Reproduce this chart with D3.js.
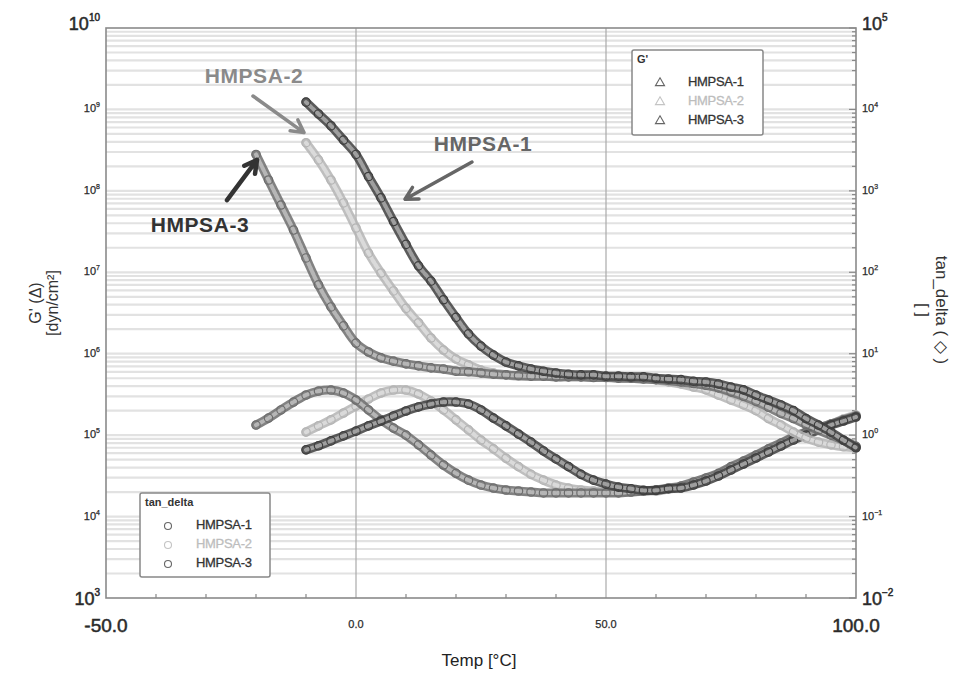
<!DOCTYPE html>
<html><head><meta charset="utf-8">
<script src="https://cdn.jsdelivr.net/npm/d3@7"></script>
<style>body{margin:0;background:#fff} svg{display:block;font-family:'Liberation Sans',Arial,sans-serif}</style>
</head><body><svg id="c" width="955" height="675"></svg>
<script>
// ---------------- data ----------------
const tempsA = [-10,-7.5,-5,-2.5,0,2.5,5,7.5,10,12.5,15,17.5,20,22.5,25,27.5,30,32.5,35,37.5,40,42.5,45,47.5,50,52.5,55,57.5,60,62.5,65,67.5,70,72.5,75,77.5,80,82.5,85,87.5,90,92.5,95,97.5,100];
const tempsB = [-20,-17.5,-15,-12.5,-10,-7.5,-5,-2.5,0,2.5,5,7.5,10,12.5,15,17.5,20,22.5,25,27.5,30,32.5,35,37.5,40,42.5,45,47.5,50,52.5,55,57.5,60,62.5,65,67.5,70,72.5,75,77.5,80,82.5,85,87.5,90,92.5,95,97.5,100];
const seriesNames = ["HMPSA-1","HMPSA-2","HMPSA-3"];
// G' [dyn/cm2]
const gPrime1 = [1.23e9,8.8e8,6.3e8,4.2e8,2.8e8,1.5e8,8.2e7,4.2e7,2.2e7,1.2e7,7.8e6,4.6e6,2.8e6,1.75e6,1.24e6,9.6e5,7.9e5,7.1e5,6.5e5,6.1e5,5.8e5,5.6e5,5.5e5,5.5e5,5.3e5,5.3e5,5.2e5,5.2e5,5.0e5,4.9e5,4.8e5,4.6e5,4.5e5,4.25e5,3.9e5,3.6e5,3.1e5,2.7e5,2.35e5,2.0e5,1.6e5,1.33e5,1.09e5,8.7e4,7.0e4];
const gPrime2 = [3.9e8,2.4e8,1.36e8,7.1e7,3.5e7,1.72e7,9.8e6,5.9e6,3.6e6,2.4e6,1.56e6,1.11e6,8.6e5,7.3e5,6.3e5,5.8e5,5.5e5,5.3e5,5.3e5,5.3e5,5.2e5,5.2e5,5.2e5,5.2e5,5.2e5,5.0e5,5.0e5,4.9e5,4.8e5,4.5e5,4.25e5,3.9e5,3.6e5,3.1e5,2.7e5,2.35e5,2.0e5,1.6e5,1.33e5,1.09e5,9.2e4,8.2e4,7.6e4,7.2e4,7.0e4];
const gPrime3 = [2.8e8,1.36e8,6.7e7,3.3e7,1.5e7,7.0e6,3.75e6,2.2e6,1.35e6,1.05e6,8.9e5,8.1e5,7.5e5,7.1e5,6.7e5,6.5e5,6.1e5,6.0e5,5.8e5,5.6e5,5.5e5,5.4e5,5.3e5,5.3e5,5.2e5,5.2e5,5.2e5,5.1e5,5.1e5,5.0e5,5.0e5,4.9e5,4.8e5,4.7e5,4.5e5,4.3e5,4.1e5,3.8e5,3.4e5,3.0e5,2.6e5,2.2e5,1.85e5,1.6e5,1.35e5,1.15e5,1.0e5,8.6e4,7.3e4];
// tan delta [ ]
const tanDelta1 = [0.66,0.74,0.85,0.98,1.12,1.30,1.49,1.72,1.98,2.22,2.41,2.55,2.55,2.41,2.04,1.62,1.30,1.03,0.82,0.64,0.51,0.41,0.33,0.28,0.25,0.23,0.22,0.21,0.21,0.22,0.224,0.244,0.273,0.315,0.373,0.442,0.524,0.621,0.736,0.872,1.00,1.16,1.33,1.49,1.67];
const tanDelta2 = [1.09,1.30,1.54,1.87,2.28,2.78,3.29,3.58,3.58,3.20,2.63,2.04,1.54,1.16,0.87,0.68,0.52,0.41,0.33,0.28,0.244,0.224,0.212,0.206,0.200,0.200,0.200,0.206,0.206,0.218,0.231,0.251,0.289,0.333,0.395,0.468,0.555,0.657,0.778,0.923,1.06,1.22,1.37,1.58,1.77];
const tanDelta3 = [1.33,1.62,2.04,2.55,3.11,3.48,3.58,3.29,2.70,2.04,1.54,1.22,1.00,0.76,0.57,0.43,0.34,0.28,0.244,0.224,0.212,0.206,0.200,0.195,0.195,0.195,0.195,0.195,0.195,0.195,0.200,0.206,0.212,0.224,0.237,0.265,0.298,0.34,0.41,0.48,0.57,0.68,0.80,0.95,1.09,1.22,1.37,1.54,1.72];
// axes
const xTickValues = [-50,0,50,100];
const xTickLabels = ["-50.0","0.0","50.0","100.0"];
const xMinorTicks = [-40,-30,-20,-10,10,20,30,40,60,70,80,90];
const leftExps = [3,4,5,6,7,8,9,10];
const rightExps = [-2,-1,0,1,2,3,4,5];
// annotations: [label, textT, textG, arrowFromT, arrowFromG, arrowToT, arrowToG]
const annotations = [
  ["HMPSA-2", -20.4, 2.1e9, -20.6, 1.46e9, -10.4, 5.2e8],
  ["HMPSA-1", 25.4, 3.1e8, 23.2, 2.26e8, 9.8, 7.9e7],
  ["HMPSA-3", -31.2, 3.1e7, -25.8, 7.7e7, -19.8, 2.4e8]
];

// ---------------- layout ----------------
const L=106, R=856, T=28, B=598;
const colors = ["#3e3e3e","#b4b4b4","#6c6c6c"];
const annColors = ["#8a8a8a","#666","#333"];
const svg = d3.select("#c");
const x = d3.scaleLinear().domain([-50,100]).range([L,R]);
const yG = d3.scaleLog().domain([1e3,1e10]).range([B,T]);
const yT = d3.scaleLog().domain([1e-2,1e5]).range([B,T]);

// grid
const gridVals = [];
for (let e=3;e<10;e++) for (let m=1;m<10;m++) { if (m===1 && e===3) continue; gridVals.push(m*Math.pow(10,e)); }
svg.append("g").selectAll("line").data(gridVals).join("line")
  .attr("x1",L).attr("x2",R).attr("y1",d=>yG(d)).attr("y2",d=>yG(d))
  .attr("stroke","#e2e2e2").attr("stroke-width",2.2);
svg.append("g").selectAll("line").data([0,50]).join("line")
  .attr("x1",d=>x(d)).attr("x2",d=>x(d)).attr("y1",T).attr("y2",B)
  .attr("stroke","#aaa").attr("stroke-width",1.2);

// ticks
svg.append("g").selectAll("line").data(xMinorTicks).join("line")
  .attr("x1",d=>x(d)).attr("x2",d=>x(d)).attr("y1",B).attr("y2",B-4)
  .attr("stroke","#888").attr("stroke-width",1.2);
const rTicks=[];
for (let e=-2;e<5;e++) for (let m=1;m<10;m++) rTicks.push([m*Math.pow(10,e), m===1]);
rTicks.push([1e5,true]);
svg.append("g").selectAll("line").data(rTicks).join("line")
  .attr("x1",R).attr("x2",d=>R-(d[1]?7:4)).attr("y1",d=>yT(d[0])).attr("y2",d=>yT(d[0]))
  .attr("stroke","#888").attr("stroke-width",1.2);

// frame
svg.append("rect").attr("x",L).attr("y",T).attr("width",R-L).attr("height",B-T)
  .attr("fill","none").attr("stroke","#8a8a8a").attr("stroke-width",1.6);

// series
const line = (ys) => d3.line().x(d=>x(d[0])).y(d=>ys(d[1])).curve(d3.curveCatmullRom);
const gSeries = [[tempsA,gPrime1],[tempsA,gPrime2],[tempsB,gPrime3]];
const tSeries = [[tempsA,tanDelta1],[tempsA,tanDelta2],[tempsB,tanDelta3]];
const order = [1,2,0];
const plot = svg.append("g");
function drawSeries(temps, vals, ys, c) {
  const pts = temps.map((t,i)=>[t,vals[i]]);
  const inner = d3.interpolateRgb(c,"#ffffff")(0.5);
  plot.append("path").attr("d",line(ys)(pts)).attr("fill","none").attr("stroke",c)
    .attr("stroke-width",9).attr("stroke-linecap","round").attr("opacity",0.85);
  plot.append("path").attr("d",line(ys)(pts)).attr("fill","none").attr("stroke",inner)
    .attr("stroke-width",4).attr("stroke-dasharray","3 2").attr("stroke-linecap","round");
  plot.append("g").selectAll("circle").data(pts).join("circle")
    .attr("cx",d=>x(d[0])).attr("cy",d=>ys(d[1])).attr("r",4.2)
    .attr("fill","none").attr("stroke",c).attr("stroke-width",1.2);
}
order.forEach(i=>{ drawSeries(tSeries[i][0],tSeries[i][1],yT,colors[i]); });
order.forEach(i=>{ drawSeries(gSeries[i][0],gSeries[i][1],yG,colors[i]); });

// tick labels
function powLabel(px, py, exp, big, anchor) {
  const t = svg.append("text").attr("x",px).attr("y",py).attr("text-anchor",anchor)
    .attr("dominant-baseline","middle").attr("fill","#2a2a2a")
    .attr("stroke","#2a2a2a").attr("stroke-width",big?0.5:0.25)
    .attr("font-size", big?18:11);
  t.append("tspan").text("10");
  t.append("tspan").attr("dy", big?-7:-4).attr("font-size", big?10:7).text(String(exp).replace("-","\u2212"));
}
leftExps.forEach(e=> powLabel(L-6, yG(Math.pow(10,e))+ (e===10?-3:(e===3?2:0)), e, e===3||e===10, "end"));
rightExps.forEach(e=> powLabel(R+6, yT(Math.pow(10,e))+ (e===5?-3:(e===-2?2:0)), e, e===-2||e===5, "start"));
xTickValues.forEach((v,i)=>{
  const big = (i===0||i===3);
  svg.append("text").attr("x",x(v)).attr("y",big?627:625).attr("text-anchor","middle")
    .attr("dominant-baseline","middle").attr("fill","#2a2a2a")
    .attr("stroke","#2a2a2a").attr("stroke-width",big?0.5:0.25)
    .attr("font-size",big?19:11).text(xTickLabels[i]);
});

// axis titles
svg.append("text").attr("transform",`translate(479,662)`).attr("text-anchor","middle")
  .attr("dominant-baseline","middle").attr("font-size",17).attr("fill","#222").text("Temp [°C]");
svg.append("text").attr("transform",`translate(37,303) rotate(-90)`).attr("text-anchor","middle")
  .attr("dominant-baseline","middle").attr("font-size",16).attr("fill","#333").text("G' (Δ)");
svg.append("text").attr("transform",`translate(54,303) rotate(-90)`).attr("text-anchor","middle")
  .attr("dominant-baseline","middle").attr("font-size",16).attr("fill","#333").text("[dyn/cm²]");
svg.append("text").attr("transform",`translate(940,310) rotate(90)`).attr("text-anchor","middle")
  .attr("dominant-baseline","middle").attr("font-size",17).attr("fill","#333").text("tan_delta ( ◇ )");
svg.append("text").attr("transform",`translate(921,310) rotate(90)`).attr("text-anchor","middle")
  .attr("dominant-baseline","middle").attr("font-size",17).attr("fill","#333").text("[ ]");

// legends
const legText = ["#333","#bdbdbd","#333"];
function legend(bx, by, bw, bh, title, symbol) {
  const g = svg.append("g");
  g.append("rect").attr("x",bx).attr("y",by).attr("width",bw).attr("height",bh).attr("rx",2)
    .attr("fill","#fff").attr("stroke","#888").attr("stroke-width",1.5);
  g.append("text").attr("x",bx+5).attr("y",by+13).attr("font-size",11).attr("font-weight","bold")
    .attr("fill","#333").text(title);
  seriesNames.forEach((n,i)=>{
    const cy = by+33+i*19;
    const sc = i===1?"#c4c4c4":"#666";
    if (symbol==="tri") g.append("path").attr("d",d3.symbol(d3.symbolTriangle,36)())
      .attr("transform",`translate(${bx+28},${cy})`).attr("fill","none").attr("stroke",sc).attr("stroke-width",1.1);
    else g.append("circle").attr("cx",bx+28).attr("cy",cy).attr("r",3.5).attr("fill","none").attr("stroke",sc).attr("stroke-width",1.1);
    g.append("text").attr("x",bx+56).attr("y",cy).attr("dominant-baseline","middle")
      .attr("font-size",13).attr("fill",legText[i]).attr("stroke",legText[i]).attr("stroke-width",0.3)
      .attr("letter-spacing",-0.3).text(n);
  });
}
legend(632,50,131,85,"G'","tri");
legend(140,493,130,84,"tan_delta","circ");

// annotations
annotations.forEach((a,i)=>{
  const [lab,tt,tg,ft,fg,at,ag] = a;
  const c = annColors[i];
  svg.append("text").attr("x",x(tt)).attr("y",yG(tg)).attr("text-anchor","middle")
    .attr("font-size",21).attr("font-weight","bold").attr("fill",c).attr("letter-spacing",0.6).text(lab);
  const x1=x(ft), y1=yG(fg), x2=x(at), y2=yG(ag);
  const ang = Math.atan2(y2-y1,x2-x1), hl=14, spread=0.5;
  const p = d3.path();
  p.moveTo(x1,y1); p.lineTo(x2,y2);
  p.moveTo(x2-hl*Math.cos(ang-spread), y2-hl*Math.sin(ang-spread)); p.lineTo(x2,y2);
  p.lineTo(x2-hl*Math.cos(ang+spread), y2-hl*Math.sin(ang+spread));
  svg.append("path").attr("d",p.toString()).attr("fill","none").attr("stroke",c)
    .attr("stroke-width",i===2?4.5:3.5).attr("stroke-linecap","round").attr("stroke-linejoin","round");
});
</script></body></html>
